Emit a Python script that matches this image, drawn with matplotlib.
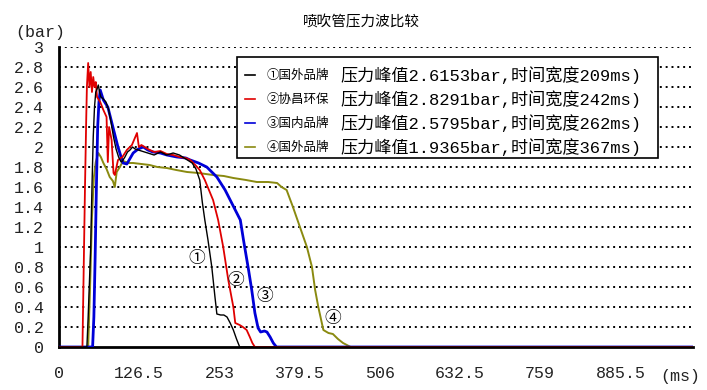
import matplotlib
matplotlib.use("Agg")
import matplotlib.pyplot as plt
from matplotlib.patches import Rectangle
from matplotlib.lines import Line2D

plt.rcParams['font.family'] = ['Liberation Mono', 'Noto Sans CJK SC', 'DejaVu Sans']

# series data (time in ms, pressure in bar)
t1 = [0, 44, 46, 48, 50, 52, 54, 56, 58, 60, 62, 64, 66, 70, 74, 78, 82, 86, 90, 94, 98, 100, 104, 108,
      112, 116, 120, 130, 140, 150, 160, 170, 180, 190, 200, 210, 216, 222, 226, 230, 235, 241, 246, 249,
      255, 260, 265, 270, 275, 280, 285, 1000]
p1 = [0, 0, 0.3, 0.65, 1.0, 1.6, 2.1, 2.4, 2.55, 2.58, 2.62, 2.55, 2.5, 2.48, 2.45, 2.38, 2.25, 2.1, 1.98,
      1.9, 1.85, 1.86, 1.9, 1.95, 1.97, 2.0, 1.98, 1.96, 1.94, 1.92, 1.95, 1.92, 1.94, 1.92, 1.88, 1.84,
      1.78, 1.67, 1.45, 1.27, 1.07, 0.8, 0.5, 0.33, 0.32, 0.32, 0.3, 0.24, 0.17, 0.08, 0, 0]

t2 = [0, 37, 39, 41, 43, 44, 46, 48, 50, 52, 54, 56, 58, 60, 65, 70, 75, 77, 79, 83, 86, 88, 93, 100, 107,
      115, 123, 126, 130, 140, 150, 160, 170, 180, 190, 200, 207, 215, 222, 230, 243, 251, 259, 267, 275,
      278, 285, 290, 296, 301, 305, 309, 1000]
p2 = [0, 0, 0.8, 1.6, 2.3, 2.6, 2.84, 2.6, 2.75, 2.55, 2.7, 2.6, 2.65, 2.5, 2.45, 2.37, 2.3, 1.85, 2.2,
      2.07, 1.74, 1.72, 1.87, 1.9, 1.97, 2.02, 2.14, 2.0, 2.02, 1.98, 1.95, 1.96, 1.93, 1.92, 1.9, 1.89,
      1.87, 1.82, 1.77, 1.67, 1.47, 1.27, 1.0, 0.67, 0.4, 0.24, 0.22, 0.2, 0.17, 0.1, 0.04, 0, 0]

t3 = [0, 53, 55, 57, 59, 61, 63, 65, 70, 77, 85, 93, 101, 107, 117, 125, 133, 140, 148, 160, 170, 186,
      200, 207, 220, 233, 249, 262, 270, 278, 286, 291, 299, 304, 309, 314, 318, 324, 328, 333, 338, 343,
      1000]
p3 = [0, 0, 0.3, 0.9, 1.6, 2.2, 2.45, 2.57, 2.47, 2.4, 2.2, 2.0, 1.84, 1.83, 1.94, 1.98, 2.0, 1.97,
      1.95, 1.94, 1.92, 1.9, 1.89, 1.87, 1.84, 1.8, 1.7, 1.57, 1.47, 1.37, 1.27, 1.07, 0.77, 0.57, 0.34,
      0.19, 0.15, 0.16, 0.15, 0.1, 0.04, 0, 0]

t4 = [0, 46, 49, 52, 55, 58, 62, 66, 70, 75, 80, 85, 88, 91, 96, 101, 110, 117, 130, 143, 155, 170, 185,
      202, 220, 243, 260, 275, 295, 312, 330, 344, 351, 359, 369, 380, 391, 399, 404, 409, 417, 425, 432,
      440, 448, 460, 1000]
p4 = [0, 0, 0.6, 1.3, 1.7, 1.85, 1.94, 1.9, 1.84, 1.78, 1.7, 1.66, 1.6, 1.75, 1.8, 1.86, 1.84, 1.84,
      1.83, 1.82, 1.8, 1.79, 1.77, 1.75, 1.74, 1.72, 1.71, 1.69, 1.67, 1.65, 1.65, 1.64, 1.6, 1.57, 1.4,
      1.2, 1.0, 0.8, 0.57, 0.4, 0.17, 0.14, 0.13, 0.08, 0.04, 0, 0]

names = ['①国外品牌', '②协昌环保', '③国内品牌', '④国外品牌']
notes = ['压力峰值2.6153bar,时间宽度209ms)', '压力峰值2.8291bar,时间宽度242ms)',
         '压力峰值2.5795bar,时间宽度262ms)', '压力峰值1.9365bar,时间宽度367ms)']
colors = ['#000000', '#e00000', '#0000d8', '#8a8a10']
marks = ['①', '②', '③', '④']
mark_x = [218, 278, 325, 432]
mark_y = [0.89, 0.67, 0.51, 0.29]

xticks = [0, 126.5, 253, 379.5, 506, 632.5, 759, 885.5]
xlabels = ['0', '126.5', '253', '379.5', '506', '632.5', '759', '885.5']
yticks = [0, 0.2, 0.4, 0.6, 0.8, 1, 1.2, 1.4, 1.6, 1.8, 2, 2.2, 2.4, 2.6, 2.8, 3]
ylabels = ['0', '0.2', '0.4', '0.6', '0.8', '1', '1.2', '1.4', '1.6', '1.8', '2', '2.2', '2.4',
           '2.6', '2.8', '3']

fig = plt.figure(figsize=(7.07, 3.90), dpi=100)
W, H = 707, 390
ax = fig.add_axes([59 / W, 43 / H, 634 / W, 300 / H])

for yv in yticks[1:]:
    ax.axhline(yv, color='black', lw=1.4, ls=(0, (1, 2)), zorder=1)

ax.plot(t4, p4, color=colors[3], lw=1.4, zorder=3)
ax.plot(t3, p3, color=colors[2], lw=2.0, zorder=4)
ax.plot(t2, p2, color=colors[1], lw=1.3, zorder=5)
ax.plot(t1, p1, color=colors[0], lw=1.0, zorder=6)

for m, x, y in zip(marks, mark_x, mark_y):
    ax.text(x, y, m, ha='center', va='center', fontsize=12,
            family=['Noto Sans CJK SC', 'DejaVu Sans'], zorder=7)

ax.set_xlim(0, 1000)
ax.set_ylim(0, 3)
ax.set_xticks(xticks)
ax.set_xticklabels(xlabels)
ax.set_yticks(yticks)
ax.set_yticklabels(ylabels)
ax.tick_params(axis='both', length=0, labelsize=12, labelcolor='#222222')
ax.tick_params(axis='y', pad=11)
ax.tick_params(axis='x', pad=14)
for s in ['top', 'right']:
    ax.spines[s].set_visible(False)
ax.spines['left'].set_linewidth(2)
ax.spines['bottom'].set_linewidth(2)

fig.text(361 / W, 1 - 22 / H, '喷吹管压力波比较', ha='center', va='center', fontsize=10.5,
         family=['Noto Sans CJK SC', 'DejaVu Sans'])
fig.text(15 / W, 1 - 32 / H, '(bar)', ha='left', va='center', fontsize=12, color='#222222')
fig.text(660 / W, 1 - 376 / H, '(ms)', ha='left', va='center', fontsize=12, color='#222222')

# legend box drawn by hand
box = Rectangle((237 / W, 1 - 158 / H), 421 / W, 101 / H, transform=fig.transFigure,
                facecolor='white', edgecolor='black', lw=1.2, zorder=8)
fig.patches.append(box)
rows = [75, 99, 123, 147]
for i in range(4):
    yy = 1 - rows[i] / H
    fig.lines.append(Line2D([245 / W, 255 / W], [yy, yy], transform=fig.transFigure,
                            color=colors[i], lw=1.2, zorder=9))
    fig.text(267 / W, yy, names[i], ha='left', va='center', fontsize=9,
             family=['Noto Sans CJK SC', 'DejaVu Sans'], zorder=9)
    fig.text(340 / W, yy, notes[i], ha='left', va='center', fontsize=12.3, zorder=9)

fig.savefig('out.png', dpi=100)
